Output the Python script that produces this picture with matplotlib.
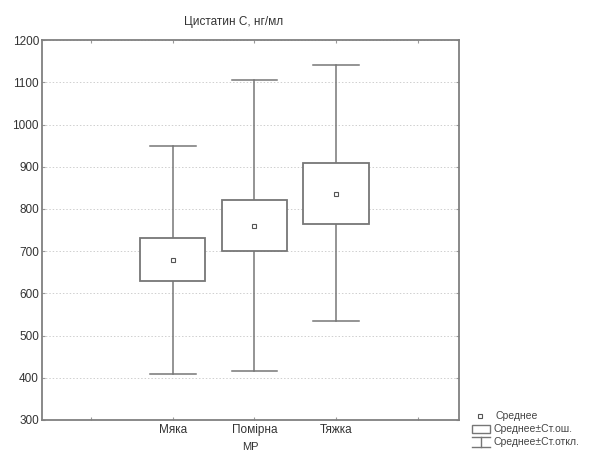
import matplotlib
matplotlib.use('Agg')
import matplotlib.pyplot as plt
from matplotlib.patches import Rectangle

plt.rcParams['font.family'] = ['Liberation Sans', 'DejaVu Sans']

# данные
groups = ['Мяка', 'Помірна', 'Тяжка']
means = [680, 760, 836]
se_low = [630, 700, 765]
se_high = [730, 820, 908]
sd_low = [410, 415, 535]
sd_high = [950, 1105, 1140]

ecol = '#767676'
fig = plt.figure(figsize=(6.15, 4.61), dpi=100)
ax = fig.add_axes([0.068, 0.089, 0.678, 0.824])

pos = [1, 2, 3]
bw = 0.4
cw = 0.28
for x, m, bl, bh, wl, wh in zip(pos, means, se_low, se_high, sd_low, sd_high):
    ax.plot([x, x], [bh, wh], color=ecol, lw=1.1, zorder=2)
    ax.plot([x, x], [wl, bl], color=ecol, lw=1.1, zorder=2)
    ax.plot([x - cw, x + cw], [wh, wh], color=ecol, lw=1.1, zorder=2)
    ax.plot([x - cw, x + cw], [wl, wl], color=ecol, lw=1.1, zorder=2)
    ax.add_patch(Rectangle((x - bw, bl), 2 * bw, bh - bl, facecolor='white',
                           edgecolor=ecol, lw=1.3, zorder=3))
    ax.plot(x, m, 's', ms=2.5, mfc='white', mec='#555555', mew=0.8, zorder=4)

ax.set_xlim(-0.6, 4.5)
ax.set_ylim(300, 1200)
ax.set_xticks([0, 1, 2, 3, 4])
ax.set_xticklabels(['', 'Мяка', 'Помірна', 'Тяжка', ''])
ax.set_yticks(range(300, 1201, 100))
ax.yaxis.grid(True, color='#cfcfcf', linestyle=(0, (1.5, 2)), lw=0.7)
ax.set_axisbelow(True)
ax.tick_params(direction='in', length=2, width=0.8, colors='#999999',
               labelcolor='#333333', labelsize=8.5, top=True, right=True, pad=3)
ax.tick_params(axis='y', labelsize=8.5, pad=2)
for s in ax.spines.values():
    s.set_color('#808080')
    s.set_linewidth(1.3)
fig.text(0.38, 0.952, 'Цистатин С, нг/мл', fontsize=8.5, color='#333333',
         ha='center', va='center')
ax.set_xlabel('МР', fontsize=8, color='#333333', labelpad=4)

# легенда
lg = fig.add_axes([0, 0, 1, 1])
lg.set_xlim(0, 615)
lg.set_ylim(461, 0)
lg.axis('off')
lg.plot(480, 416, 's', ms=2.5, mfc='white', mec='#555555', mew=0.8)
lg.add_patch(Rectangle((472, 425), 18, 8, facecolor='white', edgecolor=ecol, lw=1))
lg.plot([472, 490], [437, 437], color=ecol, lw=1)
lg.plot([481, 481], [437, 447], color=ecol, lw=1)
lg.plot([472, 490], [447, 447], color=ecol, lw=1)
txt = ['Среднее', 'Среднее±Ст.ош.', 'Среднее±Ст.откл.']
for i, t in enumerate(txt):
    lg.text(495 if i == 0 else 493, 416 + i * 13, t, fontsize=7.5,
            color='#444444', va='center')

fig.savefig('out.png', dpi=100)
